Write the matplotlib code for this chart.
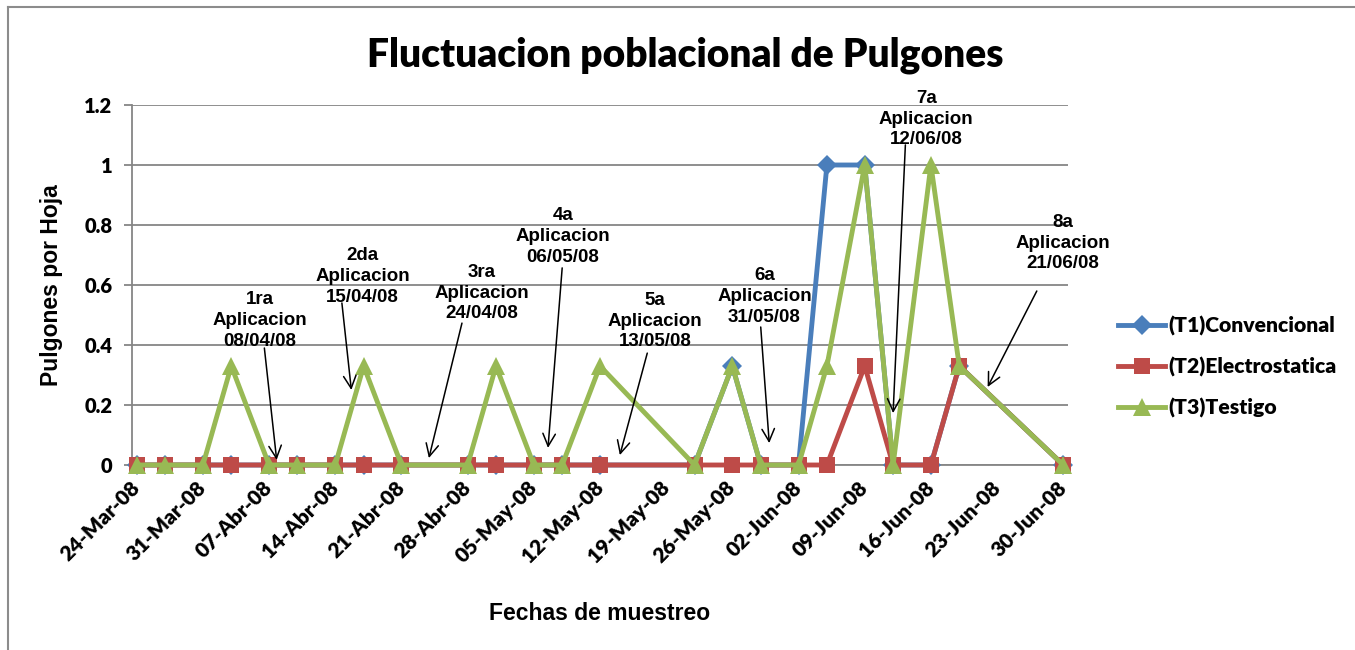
import matplotlib
matplotlib.use("Agg")
import matplotlib.pyplot as plt
from matplotlib.lines import Line2D
import datetime as dt

# ---------------- data ----------------
fechas = ['2008-03-24', '2008-03-27', '2008-03-31', '2008-04-03', '2008-04-07',
          '2008-04-10', '2008-04-14', '2008-04-17', '2008-04-21', '2008-04-28',
          '2008-05-01', '2008-05-05', '2008-05-08', '2008-05-12', '2008-05-22',
          '2008-05-26', '2008-05-29', '2008-06-02', '2008-06-05', '2008-06-09',
          '2008-06-12', '2008-06-16', '2008-06-19', '2008-06-30']
t1_convencional = [0, 0, 0, 0, 0, 0, 0, 0, 0, 0, 0, 0, 0, 0, 0,
                   0.33, 0, 0, 1, 1, 0, 0, 0.33, 0]
t2_electrostatica = [0, 0, 0, 0, 0, 0, 0, 0, 0, 0, 0, 0, 0, 0, 0,
                     0, 0, 0, 0, 0.33, 0, 0, 0.33, 0]
t3_testigo = [0, 0, 0, 0.33, 0, 0, 0, 0.33, 0, 0, 0.33, 0, 0, 0.33, 0,
              0.33, 0, 0, 0.33, 1, 0, 1, 0.33, 0]
series_names = ['(T1)Convencional', '(T2)Electrostatica', '(T3)Testigo']

tick_fechas = ['2008-03-24', '2008-03-31', '2008-04-07', '2008-04-14', '2008-04-21',
               '2008-04-28', '2008-05-05', '2008-05-12', '2008-05-19', '2008-05-26',
               '2008-06-02', '2008-06-09', '2008-06-16', '2008-06-23', '2008-06-30']
tick_labels = ['24-Mar-08', '31-Mar-08', '07-Abr-08', '14-Abr-08', '21-Abr-08',
               '28-Abr-08', '05-May-08', '12-May-08', '19-May-08', '26-May-08',
               '02-Jun-08', '09-Jun-08', '16-Jun-08', '23-Jun-08', '30-Jun-08']
y_ticks = [0, 0.2, 0.4, 0.6, 0.8, 1.0, 1.2]
y_tick_labels = ['0', '0.2', '0.4', '0.6', '0.8', '1', '1.2']

aplicaciones = ['1ra\nAplicacion\n08/04/08', '2da\nAplicacion\n15/04/08',
                '3ra\nAplicacion\n24/04/08', '4a\nAplicacion\n06/05/08',
                '5a\nAplicacion\n13/05/08', '6a\nAplicacion\n31/05/08',
                '7a\nAplicacion\n12/06/08', '8a\nAplicacion\n21/06/08']

# ---------------- layout (days after 24-Mar-08, y value) ----------------
ann_text_pos = [(13.0, 0.483), (23.9, 0.627), (36.5, 0.573), (45.1, 0.763),
                (54.8, 0.48), (66.4, 0.563), (83.5, 1.153), (98.0, 0.74)]
ann_tail = [(13.5, 0.39), (21.7, 0.54), (34.4, 0.473), (45.0, 0.657),
            (54.0, 0.373), (66.0, 0.46), (81.3, 1.067), (95.2, 0.58)]
ann_head = [(14.8, 0.017), (22.7, 0.25), (30.9, 0.023), (43.5, 0.057),
            (51.1, 0.033), (66.9, 0.073), (80.0, 0.173), (90.0, 0.26)]

CAL = 'Lato'
ARIAL = 'Liberation Sans'

W, H = 1355, 650
fig = plt.figure(figsize=(W / 100, H / 100), dpi=100)
ax = fig.add_axes([132 / W, 1 - 465 / H, (1068 - 132) / W, (465 - 105) / H])

x = [dt.datetime.strptime(f, '%Y-%m-%d') for f in fechas]
base = dt.datetime(2008, 3, 24)

colors = ['#4A7EBB', '#BE4B48', '#98B954']
markers = ['D', 's', '^']
msizes = [10, 12, 13]
for vals, c, m, ms, name, z in zip([t1_convencional, t2_electrostatica, t3_testigo],
                                  colors, markers, msizes, series_names, [3, 4, 5]):
    ax.plot(x, vals, color=c, lw=3.5, marker=m, markersize=ms,
            markeredgewidth=0, label=name, zorder=z, solid_joinstyle='round',
            clip_on=False)

ax.set_xlim(base - dt.timedelta(days=0.5), dt.datetime(2008, 6, 30) + dt.timedelta(days=0.5))
ax.set_ylim(0, 1.2)
ax.set_yticks(y_ticks)
ax.set_yticklabels(y_tick_labels, fontfamily=CAL, fontweight='heavy', fontsize=14.5)
ax.set_xticks([dt.datetime.strptime(f, '%Y-%m-%d') for f in tick_fechas])
ax.set_xticklabels(tick_labels, fontfamily=CAL, fontweight='heavy', fontsize=15,
                   rotation=45, ha='right', va='center', rotation_mode='anchor')
ax.tick_params(axis='x', length=0, pad=14)
ax.tick_params(axis='y', length=6, width=1.3, color='#868686', pad=8)

ax.grid(axis='y', color='#868686', lw=1.3, zorder=0)
ax.set_axisbelow(True)
for s in ['top', 'right']:
    ax.spines[s].set_visible(False)
ax.spines['left'].set_color('#868686')
ax.spines['left'].set_linewidth(1.3)
ax.spines['bottom'].set_color('#868686')
ax.spines['bottom'].set_linewidth(1.3)

for txt, tp, tl, hd in zip(aplicaciones, ann_text_pos, ann_tail, ann_head):
    ax.text(base + dt.timedelta(days=tp[0]), tp[1], txt, ha='center', va='center',
            fontfamily=ARIAL, fontweight='bold', fontsize=13.5, linespacing=1.3,
            zorder=6)
    ax.annotate('', xy=(base + dt.timedelta(days=hd[0]), hd[1]),
                xytext=(base + dt.timedelta(days=tl[0]), tl[1]),
                arrowprops=dict(arrowstyle='->,head_length=0.9,head_width=0.45',
                                color='black', lw=1.1, shrinkA=0, shrinkB=0),
                zorder=7, annotation_clip=False)

fig.text(685 / W, 1 - 55 / H, 'Fluctuacion poblacional de Pulgones', ha='center',
         va='center', fontfamily=CAL, fontweight='heavy', fontsize=28)
fig.text(52 / W, 1 - 285 / H, 'Pulgones por Hoja', rotation=90, ha='center',
         va='center', fontfamily=ARIAL, fontweight='bold', fontsize=16.5)
fig.text(600 / W, 1 - 614 / H, 'Fechas de muestreo', ha='center', va='center',
         fontfamily=ARIAL, fontweight='bold', fontsize=16.5)

leg = fig.legend(loc='center left', bbox_to_anchor=(1110 / W, 1 - 367 / H),
                 frameon=False, prop=dict(family=CAL, weight='heavy', size=15.2),
                 handlelength=2.2, handletextpad=0.15, labelspacing=1.0,
                 borderaxespad=0)

# chart border
fig.add_artist(Line2D([8 / W, 1], [1 - 7 / H, 1 - 7 / H], color='#8C8C8C', lw=1.5,
                      transform=fig.transFigure))
fig.add_artist(Line2D([8 / W, 8 / W], [0, 1 - 7 / H], color='#8C8C8C', lw=1.5,
                      transform=fig.transFigure))

fig.savefig('out.png', dpi=100)
